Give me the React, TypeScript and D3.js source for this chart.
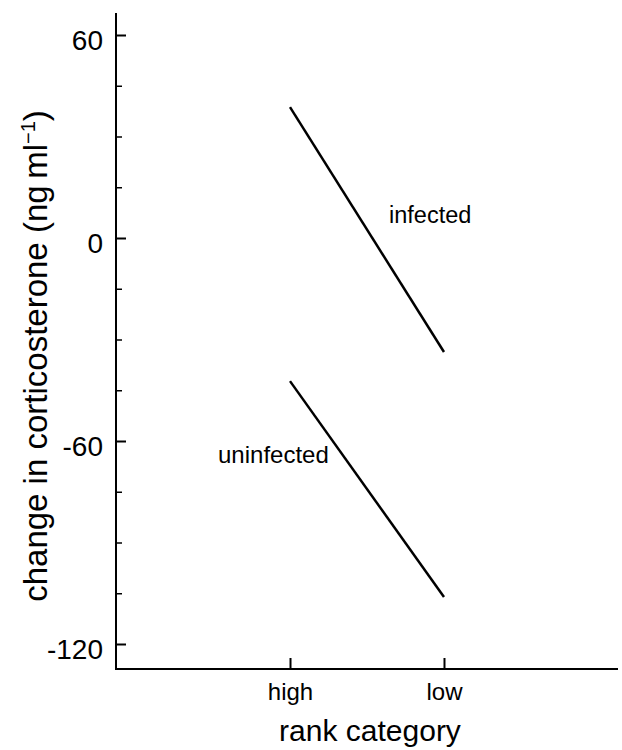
import React, { useEffect, useRef } from 'react';
import * as d3 from 'd3';

// rank categories on the x axis
const rankCategories = ['high', 'low'];

// fitted change in corticosterone (ng/ml) per rank category
const infectedValues = [38.7, -33.7];
const uninfectedValues = [-42.3, -106.1];

const majorTicks = [60, 0, -60, -120];
const minorTicks = [45, 30, 15, -15, -30, -45, -75, -90, -105];

const seriesLabels = ['infected', 'uninfected'];

const FONT = "'Liberation Sans', Arial, Helvetica, sans-serif";

const App: React.FC = () => {
  const svgRef = useRef<SVGSVGElement | null>(null);

  useEffect(() => {
    document.body.style.margin = '0';
    const width = 622, height = 750;
    const svg = d3.select(svgRef.current)
      .attr('width', width)
      .attr('height', height)
      .style('background', '#fff');

    svg.selectAll('*').remove();

    const left = 116, right = 618, top = 13, bottom = 669;

    // y scale: -120 and 60 ticks measured, axis runs a bit beyond both
    const y = d3.scaleLinear().domain([-120, 60]).range([644, 35]);

    const x = d3.scalePoint<string>()
      .domain(rankCategories)
      .range([left, right])
      .padding(1.13);

    // axis lines
    svg.append('line')
      .attr('x1', left).attr('x2', left)
      .attr('y1', top).attr('y2', bottom + 1)
      .attr('stroke', '#000').attr('stroke-width', 2);
    svg.append('line')
      .attr('x1', left - 1).attr('x2', right)
      .attr('y1', bottom).attr('y2', bottom)
      .attr('stroke', '#000').attr('stroke-width', 2);

    // y axis, ticks point inward
    const yAxis = d3.axisLeft(y)
      .tickValues(majorTicks)
      .tickSizeInner(-10)
      .tickSizeOuter(0)
      .tickPadding(13)
      .tickFormat(d => String(d));

    const gy = svg.append('g')
      .attr('transform', `translate(${left},0)`)
      .call(yAxis);
    gy.select('.domain').remove();
    gy.selectAll('line').attr('stroke-width', 2);
    gy.selectAll('text')
      .attr('dy', '0.5em')
      .style('font-family', FONT)
      .style('font-size', '28px')
      .attr('fill', '#000');

    const gyMinor = svg.append('g')
      .attr('transform', `translate(${left},0)`)
      .call(d3.axisLeft(y).tickValues(minorTicks).tickSizeInner(-6).tickSizeOuter(0).tickFormat(() => ''));
    gyMinor.select('.domain').remove();
    gyMinor.selectAll('line').attr('stroke-width', 1.5);

    // x axis
    const gx = svg.append('g')
      .attr('transform', `translate(0,${bottom})`)
      .call(d3.axisBottom(x).tickSizeInner(-11).tickSizeOuter(0).tickPadding(14));
    gx.select('.domain').remove();
    gx.selectAll('line').attr('stroke-width', 2);
    gx.selectAll('text')
      .style('font-family', FONT)
      .style('font-size', '24px')
      .attr('fill', '#000');

    // lines
    const line = d3.line<number>()
      .x((_, i) => x(rankCategories[i]) as number)
      .y(d => y(d));

    [infectedValues, uninfectedValues].forEach(values => {
      svg.append('path')
        .datum(values)
        .attr('d', line)
        .attr('fill', 'none')
        .attr('stroke', '#000')
        .attr('stroke-width', 2.5);
    });

    // series labels
    const xHigh = x('high') as number;
    svg.append('text')
      .attr('x', xHigh + 99)
      .attr('y', y(4.4))
      .style('font-family', FONT)
      .style('font-size', '23.5px')
      .text(seriesLabels[0]);
    svg.append('text')
      .attr('x', xHigh - 72)
      .attr('y', y(-66.5))
      .style('font-family', FONT)
      .style('font-size', '24px')
      .text(seriesLabels[1]);

    // axis titles
    svg.append('text')
      .attr('x', (left + right) / 2 + 3)
      .attr('y', 741)
      .attr('text-anchor', 'middle')
      .style('font-family', FONT)
      .style('font-size', '30px')
      .text('rank category');

    const yt = svg.append('text')
      .attr('transform', `translate(47,356) rotate(-90)`)
      .attr('text-anchor', 'middle')
      .style('font-family', FONT)
      .style('font-size', '33px');
    yt.append('tspan').text('change in corticosterone (ng\u2009ml');
    yt.append('tspan').attr('dy', -12).style('font-size', '20px').text('\u22121');
    yt.append('tspan').attr('dy', 12).text(')');
  }, []);

  return <svg ref={svgRef} style={{ display: 'block' }}></svg>;
};

export default App;
